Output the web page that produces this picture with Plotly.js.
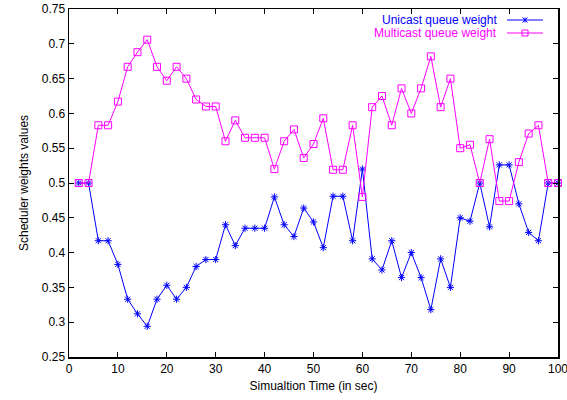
<!DOCTYPE html>
<html><head><meta charset="utf-8">
<script src="https://cdn.plot.ly/plotly-3.0.1.min.js"></script>
<style>html,body{margin:0;padding:0;background:#fff;}#chart{width:567px;height:400px;}</style>
</head><body><div id="chart"></div>
<script>
const timeSec = [2,4,6,8,10,12,14,16,18,20,22,24,26,28,30,32,34,36,38,40,42,44,46,48,50,52,54,56,58,60,62,64,66,68,70,72,74,76,78,80,82,84,86,88,90,92,94,96,98,100];
const unicastWeight = [0.5,0.5,0.417,0.417,0.383,0.333,0.312,0.294,0.333,0.353,0.333,0.35,0.38,0.39,0.39,0.44,0.41,0.435,0.435,0.435,0.48,0.44,0.423,0.464,0.444,0.407,0.481,0.481,0.417,0.52,0.391,0.375,0.417,0.364,0.4,0.364,0.318,0.391,0.35,0.45,0.445,0.5,0.437,0.526,0.526,0.47,0.429,0.417,0.5,0.5];
const multicastWeight = [0.5,0.5,0.583,0.583,0.617,0.667,0.688,0.706,0.667,0.647,0.667,0.65,0.62,0.61,0.61,0.56,0.59,0.565,0.565,0.565,0.52,0.56,0.577,0.536,0.556,0.593,0.519,0.519,0.583,0.48,0.609,0.625,0.583,0.636,0.6,0.636,0.682,0.609,0.65,0.55,0.555,0.5,0.563,0.474,0.474,0.53,0.571,0.583,0.5,0.5];
const seriesNames = ["Unicast queue weight","Multicast queue weight"];
const xTicks = [0,10,20,30,40,50,60,70,80,90,100];
const yTicks = [0.25,0.3,0.35,0.4,0.45,0.5,0.55,0.6,0.65,0.7,0.75];

const BLUE = "#0000ff", MAG = "#ff00ff";
const traces = [
  {x: timeSec, y: unicastWeight, name: seriesNames[0], mode: "lines+markers", cliponaxis: false,
   line: {color: BLUE, width: 1}, marker: {symbol: "asterisk-open", size: 6, color: BLUE, line: {color: BLUE, width: 1}}},
  {x: timeSec, y: multicastWeight, name: seriesNames[1], mode: "lines+markers", cliponaxis: false,
   line: {color: MAG, width: 1}, marker: {symbol: "square-open", size: 7, color: MAG, line: {color: MAG, width: 1}}}
];

// custom legend (text right-aligned, sample on the right)
const L = 69, R = 558, T = 9, B = 357;
const px = v => (v - L) / (R - L);
const py = v => (B - v) / (B - T);
const rows = [20, 33];
const shapes = [];
const annotations = [];
rows.forEach((yy, i) => {
  const col = i === 0 ? BLUE : MAG;
  annotations.push({xref: "paper", yref: "paper", x: px(499), y: py(yy), xanchor: "right", yanchor: "middle",
    text: seriesNames[i], showarrow: false, font: {family: "Liberation Sans, Arial, sans-serif", size: 12, color: col}});
  shapes.push({type: "line", xref: "paper", yref: "paper", x0: px(507), x1: px(543), y0: py(yy), y1: py(yy), line: {color: col, width: 1}});
  const cx = 525, s = 2.5;
  if (i === 0) {
    shapes.push({type: "line", xref: "paper", yref: "paper", x0: px(cx), x1: px(cx), y0: py(yy - s), y1: py(yy + s), line: {color: col, width: 1}});
    shapes.push({type: "line", xref: "paper", yref: "paper", x0: px(cx - s), x1: px(cx + s), y0: py(yy - s), y1: py(yy + s), line: {color: col, width: 1}});
    shapes.push({type: "line", xref: "paper", yref: "paper", x0: px(cx - s), x1: px(cx + s), y0: py(yy + s), y1: py(yy - s), line: {color: col, width: 1}});
  } else {
    shapes.push({type: "rect", xref: "paper", yref: "paper", x0: px(cx - 3), x1: px(cx + 3), y0: py(yy - 3), y1: py(yy + 3), line: {color: col, width: 1}});
  }
});

const font = {family: "Liberation Sans, Arial, sans-serif", size: 12, color: "#000"};
const layout = {
  width: 567, height: 400,
  margin: {l: L, r: 567 - R, t: T, b: 400 - B},
  paper_bgcolor: "#fff", plot_bgcolor: "#fff",
  font: font, showlegend: false,
  xaxis: {range: [-0.001, 100.001], tickvals: xTicks, ticktext: xTicks.map(String), ticks: "inside", ticklen: 5, tickcolor: "#000",
    ticklabeloverflow: "allow", tickfont: {size: 12},
    showline: true, linecolor: "#000", linewidth: 1.5, mirror: "ticks", showgrid: false, zeroline: false,
    title: {text: "Simualtion Time (in sec)", font: {family: font.family, size: 12}, standoff: 6}},
  yaxis: {range: [0.2499, 0.7501], tickvals: yTicks, ticktext: yTicks.map(String), ticks: "inside", ticklen: 5, tickcolor: "#000",
    ticklabeloverflow: "allow", tickfont: {size: 12},
    showline: true, linecolor: "#000", linewidth: 1.5, mirror: "ticks", showgrid: false, zeroline: false,
    title: {text: "Scheduler weights values", font: {family: font.family, size: 12}, standoff: 10}},
  shapes: shapes, annotations: annotations
};
Plotly.newPlot("chart", traces, layout, {staticPlot: true, displayModeBar: false});
</script></body></html>
